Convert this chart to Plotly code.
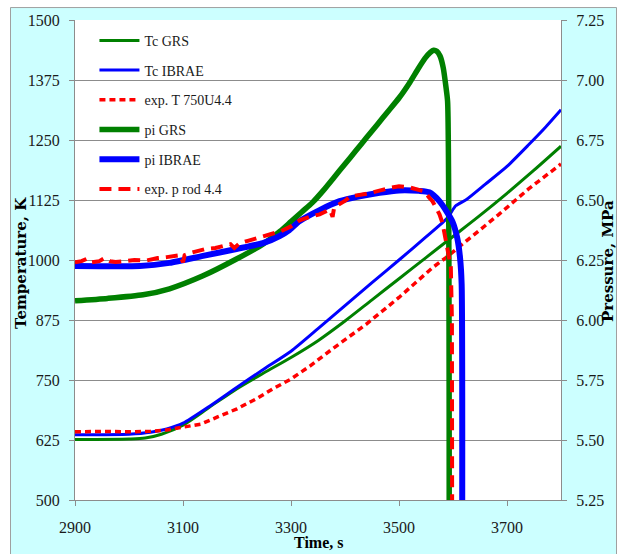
import plotly.graph_objects as go

# ---------------- data ----------------
t_tc_grs = [2900, 3000, 3030, 3060, 3100, 3150, 3200, 3250, 3300, 3350, 3400, 3450,
            3500, 3550, 3600, 3650, 3700, 3750, 3800]
tc_grs = [626, 627, 629, 637, 656, 694, 732, 765, 797, 832, 873, 917,
          961, 1005, 1049, 1093, 1139, 1187, 1237]

t_tc_ibrae = [2900, 3000, 3040, 3070, 3100, 3150, 3200, 3250, 3300, 3350, 3400, 3450,
              3500, 3550, 3590, 3605, 3625, 3660, 3700, 3740, 3770, 3800]
tc_ibrae = [636, 637, 641, 648, 660, 696, 735, 773, 810, 857, 905, 953,
            1000, 1048, 1088, 1113, 1126, 1158, 1195, 1240, 1275, 1313]

t_exp_T = [2900, 2950, 3000, 3040, 3070, 3100, 3133, 3164, 3200, 3236, 3267, 3300,
           3335, 3377, 3439, 3500, 3562, 3587, 3648, 3685, 3740, 3800]
exp_T = [642, 643, 642, 643, 646, 652, 658, 673, 690, 711, 732, 752,
         779, 815, 866, 922, 984, 1005, 1060, 1095, 1148, 1200]

t_pi_grs = [2900, 2960, 3026, 3075, 3137, 3199, 3248, 3280, 3300, 3320, 3340, 3360,
            3380, 3400, 3420, 3440, 3460, 3480, 3500, 3520, 3535, 3548, 3558, 3564,
            3570, 3576, 3582, 3587, 3590, 3593]
pi_grs = [6.08, 6.09, 6.105, 6.13, 6.184, 6.254, 6.316, 6.37, 6.41, 6.45, 6.49, 6.54,
          6.595, 6.65, 6.705, 6.76, 6.815, 6.87, 6.925, 6.99, 7.045, 7.09, 7.115, 7.124,
          7.12, 7.10, 7.05, 6.97, 6.91, 5.0]

t_pi_ibrae = [2900, 3020, 3075, 3137, 3199, 3248, 3279, 3297, 3316, 3353, 3390, 3427,
              3464, 3500, 3537, 3556, 3575, 3588, 3599, 3608, 3613, 3616, 3617]
pi_ibrae = [6.225, 6.225, 6.238, 6.267, 6.296, 6.32, 6.35, 6.375, 6.412, 6.458, 6.495, 6.515,
            6.53, 6.54, 6.538, 6.532, 6.495, 6.453, 6.41, 6.34, 6.26, 6.15, 5.0]

t_exp_p = [2900, 2912, 2922, 2930, 2945, 2955, 2965, 2975, 2996, 3010, 3033, 3045,
           3053, 3070, 3088, 3095, 3100, 3103, 3115, 3142, 3160, 3175, 3188, 3195,
           3205, 3220, 3236, 3255, 3281, 3300, 3316, 3335, 3353, 3372, 3377, 3380,
           3399, 3410, 3445, 3482, 3500, 3519, 3535, 3547, 3556, 3562, 3569, 3575,
           3581, 3587, 3593, 3596, 3598, 3598.5]
exp_p = [6.24, 6.245, 6.255, 6.24, 6.245, 6.258, 6.245, 6.242, 6.246, 6.25, 6.248, 6.255,
         6.258, 6.262, 6.27, 6.27, 6.24, 6.27, 6.28, 6.296, 6.30, 6.31, 6.316, 6.30,
         6.32, 6.33, 6.341, 6.35, 6.37, 6.39, 6.415, 6.43, 6.44, 6.46, 6.43, 6.47,
         6.495, 6.515, 6.528, 6.55, 6.557, 6.553, 6.545, 6.536, 6.51, 6.495, 6.466, 6.44,
         6.40, 6.33, 6.26, 6.22, 6.0, 5.0]

x_ticks = [2900, 3100, 3300, 3500, 3700]
y_left_ticks = [500, 625, 750, 875, 1000, 1125, 1250, 1375, 1500]
y_right_ticks = [5.25, 5.50, 5.75, 6.00, 6.25, 6.50, 6.75, 7.00, 7.25]

GREEN = "#008000"
BLUE = "#0000FF"
RED = "#FF0000"
GRID = "#8C8C8C"
CYAN = "#CCFFFF"
SERIF = "Liberation Serif"

fig = go.Figure()
fig.add_trace(go.Scatter(x=t_tc_grs, y=tc_grs, name="Tc GRS", mode="lines",
                         line=dict(color=GREEN, width=3, shape="spline", smoothing=0.8),
                         legendgroup="a"))
fig.add_trace(go.Scatter(x=t_tc_ibrae, y=tc_ibrae, name="Tc IBRAE", mode="lines",
                         line=dict(color=BLUE, width=3, shape="spline", smoothing=0.6),
                         legendgroup="b"))
fig.add_trace(go.Scatter(x=t_exp_T, y=exp_T, name="exp. T 750U4.4", mode="lines",
                         line=dict(color=RED, width=3.5, dash="6px,4px"), legendgroup="c"))
fig.add_trace(go.Scatter(x=t_pi_grs, y=pi_grs, name="pi GRS", mode="lines", yaxis="y2",
                         line=dict(color=GREEN, width=5.5, shape="spline", smoothing=0.6),
                         legendgroup="d"))
fig.add_trace(go.Scatter(x=t_pi_ibrae, y=pi_ibrae, name="pi IBRAE", mode="lines", yaxis="y2",
                         line=dict(color=BLUE, width=6, shape="spline", smoothing=0.6),
                         legendgroup="e"))
fig.add_trace(go.Scatter(x=t_exp_p, y=exp_p, name="exp. p rod 4.4", mode="lines", yaxis="y2",
                         line=dict(color=RED, width=4, dash="12px,7px"), legendgroup="f"))

tickfont = dict(family=SERIF, size=16, color="#1a1a1a")
titlefont = dict(family="DejaVu Serif", size=15, color="#000000", weight="bold")

fig.update_layout(
    width=617, height=554,
    margin=dict(l=75, r=56, t=18, b=54),
    paper_bgcolor=CYAN,
    plot_bgcolor="white",
    showlegend=True,
    legend=dict(x=0.04, y=0.99, xanchor="left", yanchor="top",
                bgcolor="rgba(0,0,0,0)", font=dict(family=SERIF, size=14, color="#1a1a1a"),
                tracegroupgap=8.5, itemwidth=40),
    xaxis=dict(range=[2900, 3800], tickvals=x_ticks, ticks="outside", ticklen=5,
               tickcolor=GRID, showline=True, linecolor=GRID, linewidth=1,
               showgrid=False, zeroline=False, tickfont=tickfont, ticklabelstandoff=8),
    yaxis=dict(range=[500, 1500], tickvals=y_left_ticks, ticks="outside", ticklen=5,
               tickcolor=GRID, showline=True, linecolor=GRID, linewidth=1,
               showgrid=True, gridcolor=GRID, gridwidth=1, zeroline=False,
               tickfont=tickfont, ticklabelstandoff=6),
    yaxis2=dict(range=[5.25, 7.25], tickvals=y_right_ticks, tickformat=".2f",
                overlaying="y", side="right", ticks="outside", ticklen=5,
                tickcolor=GRID, showline=True, linecolor=GRID, linewidth=1,
                showgrid=False, zeroline=False, tickfont=tickfont, ticklabelstandoff=6),
)

# axis titles
fig.add_annotation(text="Temperature, K", xref="paper", yref="paper",
                   x=(21 - 75) / 486, y=(500 - 262) / 482, textangle=-90,
                   showarrow=False, font=titlefont, xanchor="center", yanchor="middle")
fig.add_annotation(text="Pressure, MPa", xref="paper", yref="paper",
                   x=(608 - 75) / 486, y=(500 - 260) / 482, textangle=-90,
                   showarrow=False, font=titlefont, xanchor="center", yanchor="middle")
fig.add_annotation(text="Time, s", xref="paper", yref="paper",
                   x=(318 - 75) / 486, y=(500 - 543) / 482,
                   showarrow=False, font=dict(family=SERIF, size=16, color="#000", weight="bold"),
                   xanchor="center", yanchor="middle")


# white outer margin and grey frame of the chart area
def px_x(p):
    return (p - 75) / 486


def px_y(p):
    return (500 - p) / 482


fig.add_shape(type="rect", xref="paper", yref="paper", x0=px_x(-5), x1=px_x(10),
              y0=px_y(560), y1=px_y(-5), fillcolor="white", line=dict(width=0))
fig.add_shape(type="rect", xref="paper", yref="paper", x0=px_x(-5), x1=px_x(622),
              y0=px_y(5), y1=px_y(-5), fillcolor="white", line=dict(width=0))
fig.add_shape(type="rect", xref="paper", yref="paper", x0=px_x(10.5), x1=px_x(616.5),
              y0=px_y(560), y1=px_y(5.5), fillcolor="rgba(0,0,0,0)",
              line=dict(color="#A0A0A0", width=1))

fig.write_html("out.html")
